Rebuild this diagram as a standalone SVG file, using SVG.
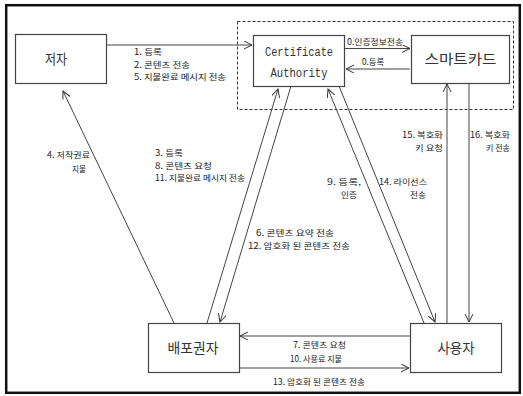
<svg xmlns="http://www.w3.org/2000/svg" width="523" height="396" viewBox="0 0 523 396">
<defs>
<marker id="ah" markerWidth="10" markerHeight="10" refX="8" refY="4" orient="auto" markerUnits="userSpaceOnUse">
<path d="M0,0 L8,4 L0,8" fill="none" stroke="#333" stroke-width="1"/>
</marker>
<style>
.box{fill:#fff;stroke:#444;stroke-width:1.2}
.arr{fill:none;stroke:#444;stroke-width:1;marker-end:url(#ah)}
.lb{font-family:"Noto Sans CJK KR","Noto Sans",sans-serif;font-size:8.5px;fill:#222}
.nd{font-family:"Noto Sans CJK KR","Noto Sans",sans-serif;font-size:14px;fill:#333;text-anchor:middle}
.mono{font-family:"Liberation Mono",monospace;font-size:12px;fill:#333;text-anchor:middle}
</style>
</defs>
<rect x="0" y="0" width="523" height="396" fill="#fff"/>
<rect x="6.2" y="5.2" width="513.6" height="387.6" fill="none" stroke="#111" stroke-width="2.5"/>
<rect x="237.5" y="21.5" width="276" height="88" fill="none" stroke="#333" stroke-width="1" stroke-dasharray="3,2"/>

<g id="connectors">
<line class="arr" x1="106" y1="45" x2="252" y2="45"/>
<line class="arr" x1="344" y1="48.5" x2="410" y2="48.5"/>
<line class="arr" x1="410" y1="69" x2="346" y2="69"/>
<line class="arr" x1="174" y1="323" x2="63" y2="91"/>
<line class="arr" x1="207" y1="323" x2="278" y2="89"/>
<line class="arr" x1="291" y1="86" x2="220" y2="322"/>
<line class="arr" x1="424" y1="323" x2="328" y2="89"/>
<line class="arr" x1="339" y1="86" x2="435" y2="322"/>
<line class="arr" x1="447" y1="323" x2="447" y2="84"/>
<line class="arr" x1="469" y1="83" x2="469" y2="322"/>
<line class="arr" x1="410" y1="336" x2="240" y2="336"/>
<line class="arr" x1="239" y1="368" x2="409" y2="368"/>
</g>

<g id="labels">
<text class="lb" x="134" y="55" textLength="28" lengthAdjust="spacingAndGlyphs">1. 등록</text>
<text class="lb" x="134" y="67.5" textLength="56" lengthAdjust="spacingAndGlyphs">2. 콘텐츠 전송</text>
<text class="lb" x="134" y="80" textLength="92" lengthAdjust="spacingAndGlyphs">5. 지불완료 메시지 전송</text>
<text class="lb" x="347" y="45" textLength="56" lengthAdjust="spacingAndGlyphs">0.인증정보전송</text>
<text class="lb" x="362" y="65" textLength="22" lengthAdjust="spacingAndGlyphs">0.등록</text>
<text class="lb" x="47" y="158" textLength="43" lengthAdjust="spacingAndGlyphs">4. 저작권료</text>
<text class="lb" x="72" y="172" textLength="14" lengthAdjust="spacingAndGlyphs">지불</text>
<text class="lb" x="155" y="156" textLength="28" lengthAdjust="spacingAndGlyphs">3. 등록</text>
<text class="lb" x="155" y="168.5" textLength="57" lengthAdjust="spacingAndGlyphs">8. 콘텐츠 요청</text>
<text class="lb" x="155" y="181" textLength="90" lengthAdjust="spacingAndGlyphs">11. 지불완료 메시지 전송</text>
<text class="lb" x="256" y="236" textLength="78" lengthAdjust="spacingAndGlyphs">6. 콘텐츠 요약 전송</text>
<text class="lb" x="248" y="248.5" textLength="102" lengthAdjust="spacingAndGlyphs">12. 암호화 된 콘텐츠 전송</text>
<text class="lb" x="327" y="185" textLength="34" lengthAdjust="spacingAndGlyphs">9. 등록,</text>
<text class="lb" x="341" y="197.5" textLength="16" lengthAdjust="spacingAndGlyphs">인증</text>
<text class="lb" x="379" y="185" textLength="48" lengthAdjust="spacingAndGlyphs">14. 라이선스</text>
<text class="lb" x="410" y="197.5" textLength="16" lengthAdjust="spacingAndGlyphs">전송</text>
<text class="lb" x="402" y="138" textLength="41" lengthAdjust="spacingAndGlyphs">15. 복호화</text>
<text class="lb" x="415" y="150.5" textLength="28" lengthAdjust="spacingAndGlyphs">키 요청</text>
<text class="lb" x="470" y="138" textLength="40" lengthAdjust="spacingAndGlyphs">16. 복호화</text>
<text class="lb" x="486" y="150.5" textLength="24" lengthAdjust="spacingAndGlyphs">키 전송</text>
<text class="lb" x="293" y="348" textLength="53" lengthAdjust="spacingAndGlyphs">7. 콘텐츠 요청</text>
<text class="lb" x="290" y="362" textLength="52" lengthAdjust="spacingAndGlyphs">10. 사용료 지불</text>
<text class="lb" x="273" y="385" textLength="92" lengthAdjust="spacingAndGlyphs">13. 암호화 된 콘텐츠 전송</text>
</g>

<g id="author">
<rect class="box" x="15.5" y="34.5" width="91" height="49"/>
<text class="nd" x="56" y="64" textLength="22" lengthAdjust="spacingAndGlyphs">저자</text>
</g>
<g id="ca">
<rect class="box" x="253.5" y="35.5" width="91" height="51"/>
<text class="mono" x="299" y="56" textLength="68" lengthAdjust="spacingAndGlyphs">Certificate</text>
<text class="mono" x="299" y="77" textLength="57" lengthAdjust="spacingAndGlyphs">Authority</text>
</g>
<g id="smartcard">
<rect class="box" x="411.5" y="35.5" width="98" height="48"/>
<text class="nd" x="460.5" y="64" textLength="72" lengthAdjust="spacingAndGlyphs">스마트카드</text>
</g>
<g id="distributor">
<rect class="box" x="148.5" y="323.5" width="91" height="49"/>
<text class="nd" x="193" y="353" textLength="51" lengthAdjust="spacingAndGlyphs">배포권자</text>
</g>
<g id="user">
<rect class="box" x="410.5" y="323.5" width="91" height="49"/>
<text class="nd" x="456" y="353" textLength="37" lengthAdjust="spacingAndGlyphs">사용자</text>
</g>
</svg>
